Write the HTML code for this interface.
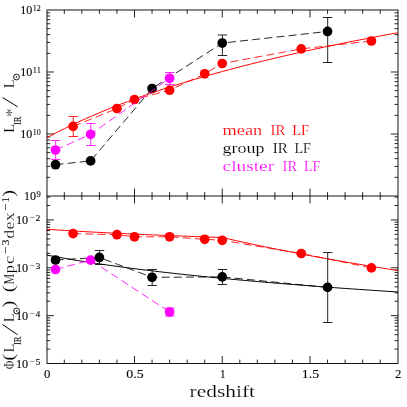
<!DOCTYPE html>
<html><head><meta charset="utf-8"><style>
html,body{margin:0;padding:0;background:#fff;}
#c{position:relative;width:407px;height:407px;overflow:hidden;background:#fff;font-family:"Liberation Serif", serif;}
</style></head><body><div id="c">
<svg width="407" height="407" viewBox="0 0 407 407" style="display:block;will-change:transform" font-family="'Liberation Serif', serif">
<rect x="0" y="0" width="407" height="407" fill="#fff"/>
<g stroke="#000" stroke-width="0.92" fill="none" stroke-linecap="butt">
<rect x="47.0" y="10.0" width="351.00" height="353.50"/>
<path d="M47.0 196.0H398.0"/>
</g>
<g stroke="#000" stroke-width="0.85" fill="none" stroke-linecap="butt">
<path d="M64.30 10.0v3.9M64.30 196.0v-3.9M64.30 196.0v3.9M64.30 363.5v-3.9M81.85 10.0v3.9M81.85 196.0v-3.9M81.85 196.0v3.9M81.85 363.5v-3.9M99.40 10.0v3.9M99.40 196.0v-3.9M99.40 196.0v3.9M99.40 363.5v-3.9M116.95 10.0v3.9M116.95 196.0v-3.9M116.95 196.0v3.9M116.95 363.5v-3.9M134.50 10.0v7.5M134.50 196.0v-7.5M134.50 196.0v7.5M134.50 363.5v-7.5M152.05 10.0v3.9M152.05 196.0v-3.9M152.05 196.0v3.9M152.05 363.5v-3.9M169.60 10.0v3.9M169.60 196.0v-3.9M169.60 196.0v3.9M169.60 363.5v-3.9M187.15 10.0v3.9M187.15 196.0v-3.9M187.15 196.0v3.9M187.15 363.5v-3.9M204.70 10.0v3.9M204.70 196.0v-3.9M204.70 196.0v3.9M204.70 363.5v-3.9M222.25 10.0v7.5M222.25 196.0v-7.5M222.25 196.0v7.5M222.25 363.5v-7.5M239.80 10.0v3.9M239.80 196.0v-3.9M239.80 196.0v3.9M239.80 363.5v-3.9M257.35 10.0v3.9M257.35 196.0v-3.9M257.35 196.0v3.9M257.35 363.5v-3.9M274.90 10.0v3.9M274.90 196.0v-3.9M274.90 196.0v3.9M274.90 363.5v-3.9M292.45 10.0v3.9M292.45 196.0v-3.9M292.45 196.0v3.9M292.45 363.5v-3.9M310.00 10.0v7.5M310.00 196.0v-7.5M310.00 196.0v7.5M310.00 363.5v-7.5M327.55 10.0v3.9M327.55 196.0v-3.9M327.55 196.0v3.9M327.55 363.5v-3.9M345.10 10.0v3.9M345.10 196.0v-3.9M345.10 196.0v3.9M345.10 363.5v-3.9M362.65 10.0v3.9M362.65 196.0v-3.9M362.65 196.0v3.9M362.65 363.5v-3.9M380.20 10.0v3.9M380.20 196.0v-3.9M380.20 196.0v3.9M380.20 363.5v-3.9M46.75 177.34h3.5M398.0 177.34h-3.5M46.75 166.42h3.5M398.0 166.42h-3.5M46.75 158.67h3.5M398.0 158.67h-3.5M46.75 152.66h3.5M398.0 152.66h-3.5M46.75 147.75h3.5M398.0 147.75h-3.5M46.75 143.60h3.5M398.0 143.60h-3.5M46.75 140.01h3.5M398.0 140.01h-3.5M46.75 136.84h3.5M398.0 136.84h-3.5M46.75 134.00h7.2M398.0 134.00h-7.2M46.75 115.34h3.5M398.0 115.34h-3.5M46.75 104.42h3.5M398.0 104.42h-3.5M46.75 96.67h3.5M398.0 96.67h-3.5M46.75 90.66h3.5M398.0 90.66h-3.5M46.75 85.75h3.5M398.0 85.75h-3.5M46.75 81.60h3.5M398.0 81.60h-3.5M46.75 78.01h3.5M398.0 78.01h-3.5M46.75 74.84h3.5M398.0 74.84h-3.5M46.75 72.00h7.2M398.0 72.00h-7.2M46.75 53.34h3.5M398.0 53.34h-3.5M46.75 42.42h3.5M398.0 42.42h-3.5M46.75 34.67h3.5M398.0 34.67h-3.5M46.75 28.66h3.5M398.0 28.66h-3.5M46.75 23.75h3.5M398.0 23.75h-3.5M46.75 19.60h3.5M398.0 19.60h-3.5M46.75 16.01h3.5M398.0 16.01h-3.5M46.75 12.84h3.5M398.0 12.84h-3.5M46.75 349.09h3.5M398.0 349.09h-3.5M46.75 340.67h3.5M398.0 340.67h-3.5M46.75 334.69h3.5M398.0 334.69h-3.5M46.75 330.05h3.5M398.0 330.05h-3.5M46.75 326.26h3.5M398.0 326.26h-3.5M46.75 323.06h3.5M398.0 323.06h-3.5M46.75 320.28h3.5M398.0 320.28h-3.5M46.75 317.83h3.5M398.0 317.83h-3.5M46.75 315.64h7.2M398.0 315.64h-7.2M46.75 301.24h3.5M398.0 301.24h-3.5M46.75 292.81h3.5M398.0 292.81h-3.5M46.75 286.83h3.5M398.0 286.83h-3.5M46.75 282.19h3.5M398.0 282.19h-3.5M46.75 278.40h3.5M398.0 278.40h-3.5M46.75 275.20h3.5M398.0 275.20h-3.5M46.75 272.42h3.5M398.0 272.42h-3.5M46.75 269.98h3.5M398.0 269.98h-3.5M46.75 267.79h7.2M398.0 267.79h-7.2M46.75 253.38h3.5M398.0 253.38h-3.5M46.75 244.95h3.5M398.0 244.95h-3.5M46.75 238.97h3.5M398.0 238.97h-3.5M46.75 234.34h3.5M398.0 234.34h-3.5M46.75 230.55h3.5M398.0 230.55h-3.5M46.75 227.34h3.5M398.0 227.34h-3.5M46.75 224.57h3.5M398.0 224.57h-3.5M46.75 222.12h3.5M398.0 222.12h-3.5M46.75 219.93h7.2M398.0 219.93h-7.2M46.75 205.52h3.5M398.0 205.52h-3.5M46.75 197.09h3.5M398.0 197.09h-3.5"/>
</g>
<polyline points="55.52,164.70 90.62,160.90 152.05,88.50 222.25,43.05 327.55,31.45" fill="none" stroke="#000" stroke-width="0.85" stroke-dasharray="8 4.2"/>
<path d="M222.40 35.0V55.5M217.70 35.0h9.4M217.70 55.5h9.4" stroke="#000" stroke-width="0.85" fill="none"/>
<path d="M327.70 17.5V62.5M323.00 17.5h9.4M323.00 62.5h9.4" stroke="#000" stroke-width="0.85" fill="none"/>
<circle cx="55.52" cy="164.7" r="4.85" fill="#000"/>
<circle cx="90.62" cy="160.9" r="4.85" fill="#000"/>
<circle cx="152.05" cy="88.5" r="4.85" fill="#000"/>
<circle cx="222.25" cy="43.05" r="4.85" fill="#000"/>
<circle cx="327.55" cy="31.45" r="4.85" fill="#000"/>
<polyline points="47.00,137.72 50.51,135.83 54.02,133.97 57.53,132.15 61.04,130.36 64.55,128.61 68.06,126.89 71.57,125.20 75.08,123.53 78.59,121.90 82.10,120.29 85.61,118.71 89.12,117.16 92.63,115.63 96.14,114.12 99.65,112.64 103.16,111.18 106.67,109.74 110.18,108.33 113.69,106.93 117.20,105.56 120.71,104.20 124.22,102.86 127.73,101.55 131.24,100.25 134.75,98.96 138.26,97.70 141.77,96.45 145.28,95.21 148.79,94.00 152.30,92.79 155.81,91.61 159.32,90.43 162.83,89.27 166.34,88.13 169.85,87.00 173.36,85.88 176.87,84.78 180.38,83.68 183.89,82.60 187.40,81.53 190.91,80.48 194.42,79.43 197.93,78.40 201.44,77.38 204.95,76.37 208.46,75.37 211.97,74.37 215.48,73.39 218.99,72.42 222.50,71.46 226.01,70.51 229.52,69.57 233.03,68.64 236.54,67.71 240.05,66.80 243.56,65.89 247.07,65.00 250.58,64.11 254.09,63.23 257.60,62.35 261.11,61.49 264.62,60.63 268.13,59.78 271.64,58.94 275.15,58.10 278.66,57.28 282.17,56.46 285.68,55.64 289.19,54.84 292.70,54.04 296.21,53.24 299.72,52.46 303.23,51.68 306.74,50.90 310.25,50.13 313.76,49.37 317.27,48.62 320.78,47.87 324.29,47.12 327.80,46.38 331.31,45.65 334.82,44.92 338.33,44.20 341.84,43.49 345.35,42.78 348.86,42.07 352.37,41.37 355.88,40.68 359.39,39.99 362.90,39.30 366.41,38.62 369.92,37.94 373.43,37.27 376.94,36.61 380.45,35.95 383.96,35.29 387.47,34.64 390.98,33.99 394.49,33.35 398.00,32.71" fill="none" stroke="#f00" stroke-width="1.0"/>
<polyline points="73.08,126.40 116.95,108.50 134.50,99.50 169.60,90.20 204.70,73.80 222.25,63.50 301.23,48.90 371.43,41.00" fill="none" stroke="#f00" stroke-width="0.85" stroke-dasharray="8 4.2"/>
<path d="M73.23 116.5V136.5M68.53 116.5h9.4M68.53 136.5h9.4" stroke="#f00" stroke-width="0.85" fill="none"/>
<circle cx="73.08" cy="126.4" r="4.85" fill="#f00"/>
<circle cx="116.95" cy="108.5" r="4.85" fill="#f00"/>
<circle cx="134.5" cy="99.5" r="4.85" fill="#f00"/>
<circle cx="169.6" cy="90.2" r="4.85" fill="#f00"/>
<circle cx="204.7" cy="73.8" r="4.85" fill="#f00"/>
<circle cx="222.25" cy="63.5" r="4.85" fill="#f00"/>
<circle cx="301.23" cy="48.9" r="4.85" fill="#f00"/>
<circle cx="371.43" cy="41.0" r="4.85" fill="#f00"/>
<polyline points="55.52,150.00 90.62,134.30 169.60,78.30" fill="none" stroke="#f0f" stroke-width="0.85" stroke-dasharray="8 4.2"/>
<path d="M55.67 140.5V159.5M50.97 140.5h9.4M50.97 159.5h9.4" stroke="#f0f" stroke-width="0.85" fill="none"/>
<path d="M90.78 123.5V145.5M86.08 123.5h9.4M86.08 145.5h9.4" stroke="#f0f" stroke-width="0.85" fill="none"/>
<path d="M169.75 72.5V84.5M165.05 72.5h9.4M165.05 84.5h9.4" stroke="#f0f" stroke-width="0.85" fill="none"/>
<circle cx="55.52" cy="150" r="4.85" fill="#f0f"/>
<circle cx="90.62" cy="134.3" r="4.85" fill="#f0f"/>
<circle cx="169.6" cy="78.3" r="4.85" fill="#f0f"/>
<polyline points="47.00,255.10 50.51,255.76 54.02,256.42 57.53,257.06 61.04,257.68 64.55,258.30 68.06,258.90 71.57,259.50 75.08,260.08 78.59,260.66 82.10,261.22 85.61,261.78 89.12,262.32 92.63,262.86 96.14,263.39 99.65,263.91 103.16,264.42 106.67,264.93 110.18,265.42 113.69,265.91 117.20,266.40 120.71,266.87 124.22,267.34 127.73,267.80 131.24,268.26 134.75,268.71 138.26,269.16 141.77,269.60 145.28,270.03 148.79,270.46 152.30,270.88 155.81,271.30 159.32,271.71 162.83,272.11 166.34,272.52 169.85,272.91 173.36,273.31 176.87,273.69 180.38,274.08 183.89,274.46 187.40,274.83 190.91,275.20 194.42,275.57 197.93,275.93 201.44,276.29 204.95,276.65 208.46,277.00 211.97,277.35 215.48,277.69 218.99,278.03 222.50,278.37 226.01,278.70 229.52,279.03 233.03,279.36 236.54,279.69 240.05,280.01 243.56,280.33 247.07,280.64 250.58,280.95 254.09,281.26 257.60,281.57 261.11,281.87 264.62,282.17 268.13,282.47 271.64,282.77 275.15,283.06 278.66,283.35 282.17,283.64 285.68,283.93 289.19,284.21 292.70,284.49 296.21,284.77 299.72,285.05 303.23,285.32 306.74,285.59 310.25,285.86 313.76,286.13 317.27,286.39 320.78,286.66 324.29,286.92 327.80,287.18 331.31,287.43 334.82,287.69 338.33,287.94 341.84,288.19 345.35,288.44 348.86,288.69 352.37,288.94 355.88,289.18 359.39,289.42 362.90,289.67 366.41,289.90 369.92,290.14 373.43,290.38 376.94,290.61 380.45,290.84 383.96,291.07 387.47,291.30 390.98,291.53 394.49,291.76 398.00,291.98" fill="none" stroke="#000" stroke-width="1.0"/>
<polyline points="55.52,260.00 99.40,257.45 152.05,277.30 222.25,276.90 327.55,287.40" fill="none" stroke="#000" stroke-width="0.85" stroke-dasharray="8 4.2"/>
<polyline points="47.00,229.30 50.51,229.53 54.02,229.77 57.53,229.99 61.04,230.21 64.55,230.43 68.06,230.64 71.57,230.85 75.08,231.06 78.59,231.26 82.10,231.46 85.61,231.66 89.12,231.85 92.63,232.04 96.14,232.23 99.65,232.41 103.16,232.59 106.67,232.77 110.18,232.95 113.69,233.12 117.20,233.29 120.71,233.46 124.22,233.62 127.73,233.79 131.24,233.95 134.75,234.11 138.26,234.26 141.77,234.42 145.28,234.57 148.79,234.72 152.30,234.87 155.81,235.02 159.32,235.17 162.83,235.31 166.34,235.45 169.85,235.59 173.36,235.73 176.87,235.87 180.38,236.00 183.89,236.14 187.40,236.27 190.91,236.40 194.42,236.53 197.93,236.66 201.44,236.78 204.95,236.91 208.46,237.03 211.97,237.16 215.48,237.28 218.99,237.40 222.50,237.52 226.01,238.33 229.52,239.13 233.03,239.93 236.54,240.71 240.05,241.49 243.56,242.26 247.07,243.03 250.58,243.79 254.09,244.54 257.60,245.28 261.11,246.02 264.62,246.75 268.13,247.47 271.64,248.19 275.15,248.90 278.66,249.60 282.17,250.30 285.68,251.00 289.19,251.68 292.70,252.36 296.21,253.04 299.72,253.71 303.23,254.38 306.74,255.03 310.25,255.69 313.76,256.34 317.27,256.98 320.78,257.62 324.29,258.25 327.80,258.88 331.31,259.51 334.82,260.13 338.33,260.74 341.84,261.35 345.35,261.96 348.86,262.56 352.37,263.15 355.88,263.75 359.39,264.33 362.90,264.92 366.41,265.50 369.92,266.07 373.43,266.64 376.94,267.21 380.45,267.77 383.96,268.33 387.47,268.89 390.98,269.44 394.49,269.99 398.00,270.54" fill="none" stroke="#f00" stroke-width="1.0"/>
<polyline points="73.08,233.60 116.95,234.70 134.50,236.80 169.60,236.80 204.70,239.30 222.25,240.30 301.23,253.50 371.43,267.90" fill="none" stroke="#f00" stroke-width="0.85" stroke-dasharray="8 4.2"/>
<circle cx="73.08" cy="233.6" r="4.85" fill="#f00"/>
<circle cx="116.95" cy="234.7" r="4.85" fill="#f00"/>
<circle cx="134.5" cy="236.8" r="4.85" fill="#f00"/>
<circle cx="169.6" cy="236.8" r="4.85" fill="#f00"/>
<circle cx="204.7" cy="239.3" r="4.85" fill="#f00"/>
<circle cx="222.25" cy="240.3" r="4.85" fill="#f00"/>
<circle cx="301.23" cy="253.5" r="4.85" fill="#f00"/>
<circle cx="371.43" cy="267.9" r="4.85" fill="#f00"/>
<polyline points="55.52,269.50 90.62,260.10 169.60,312.00" fill="none" stroke="#f0f" stroke-width="0.85" stroke-dasharray="8 4.2"/>
<path d="M169.75 308.0V316.0M165.05 308.0h9.4M165.05 316.0h9.4" stroke="#f0f" stroke-width="0.85" fill="none"/>
<circle cx="55.52" cy="269.5" r="4.85" fill="#f0f"/>
<circle cx="90.62" cy="260.1" r="4.85" fill="#f0f"/>
<circle cx="169.6" cy="312.0" r="4.85" fill="#f0f"/>
<path d="M99.55 250.5V264.5M94.85 250.5h9.4M94.85 264.5h9.4" stroke="#000" stroke-width="0.85" fill="none"/>
<path d="M152.20 269.5V285.5M147.50 269.5h9.4M147.50 285.5h9.4" stroke="#000" stroke-width="0.85" fill="none"/>
<path d="M222.40 269.5V284.5M217.70 269.5h9.4M217.70 284.5h9.4" stroke="#000" stroke-width="0.85" fill="none"/>
<path d="M327.70 252.5V322.5M323.00 252.5h9.4M323.00 322.5h9.4" stroke="#000" stroke-width="0.85" fill="none"/>
<circle cx="55.52" cy="260" r="4.85" fill="#000"/>
<circle cx="99.4" cy="257.45" r="4.85" fill="#000"/>
<circle cx="152.05" cy="277.3" r="4.85" fill="#000"/>
<circle cx="222.25" cy="276.9" r="4.85" fill="#000"/>
<circle cx="327.55" cy="287.4" r="4.85" fill="#000"/>
<text x="32.80" y="11.10" font-size="7.6" fill="#000" text-anchor="start" textLength="8.00" lengthAdjust="spacingAndGlyphs" stroke="#000" stroke-width="0.08">12</text>
<text x="20.20" y="14.10" font-size="11.9" fill="#000" text-anchor="start" textLength="12.00" lengthAdjust="spacingAndGlyphs" stroke="#000" stroke-width="0.08">10</text>
<text x="32.80" y="73.10" font-size="7.6" fill="#000" text-anchor="start" textLength="8.00" lengthAdjust="spacingAndGlyphs" stroke="#000" stroke-width="0.08">11</text>
<text x="20.20" y="76.10" font-size="11.9" fill="#000" text-anchor="start" textLength="12.00" lengthAdjust="spacingAndGlyphs" stroke="#000" stroke-width="0.08">10</text>
<text x="32.80" y="135.10" font-size="7.6" fill="#000" text-anchor="start" textLength="8.00" lengthAdjust="spacingAndGlyphs" stroke="#000" stroke-width="0.08">10</text>
<text x="20.20" y="138.10" font-size="11.9" fill="#000" text-anchor="start" textLength="12.00" lengthAdjust="spacingAndGlyphs" stroke="#000" stroke-width="0.08">10</text>
<text x="36.50" y="197.10" font-size="7.6" fill="#000" text-anchor="start" textLength="4.30" lengthAdjust="spacingAndGlyphs" stroke="#000" stroke-width="0.08">9</text>
<text x="23.90" y="200.10" font-size="11.9" fill="#000" text-anchor="start" textLength="12.00" lengthAdjust="spacingAndGlyphs" stroke="#000" stroke-width="0.08">10</text>
<text x="16.00" y="224.13" font-size="11.9" fill="#000" text-anchor="start" textLength="12.20" lengthAdjust="spacingAndGlyphs" stroke="#000" stroke-width="0.08">10</text>
<text x="29.20" y="220.43" font-size="7.6" fill="#000" text-anchor="start" textLength="5.60" lengthAdjust="spacingAndGlyphs" stroke="#000" stroke-width="0.08">&#8722;</text>
<text x="35.50" y="221.13" font-size="7.6" fill="#000" text-anchor="start" textLength="4.80" lengthAdjust="spacingAndGlyphs" stroke="#000" stroke-width="0.08">2</text>
<text x="16.00" y="271.99" font-size="11.9" fill="#000" text-anchor="start" textLength="12.20" lengthAdjust="spacingAndGlyphs" stroke="#000" stroke-width="0.08">10</text>
<text x="29.20" y="268.29" font-size="7.6" fill="#000" text-anchor="start" textLength="5.60" lengthAdjust="spacingAndGlyphs" stroke="#000" stroke-width="0.08">&#8722;</text>
<text x="35.50" y="268.99" font-size="7.6" fill="#000" text-anchor="start" textLength="4.80" lengthAdjust="spacingAndGlyphs" stroke="#000" stroke-width="0.08">3</text>
<text x="16.00" y="319.84" font-size="11.9" fill="#000" text-anchor="start" textLength="12.20" lengthAdjust="spacingAndGlyphs" stroke="#000" stroke-width="0.08">10</text>
<text x="29.20" y="316.14" font-size="7.6" fill="#000" text-anchor="start" textLength="5.60" lengthAdjust="spacingAndGlyphs" stroke="#000" stroke-width="0.08">&#8722;</text>
<text x="35.50" y="316.84" font-size="7.6" fill="#000" text-anchor="start" textLength="4.80" lengthAdjust="spacingAndGlyphs" stroke="#000" stroke-width="0.08">4</text>
<text x="16.00" y="367.70" font-size="11.9" fill="#000" text-anchor="start" textLength="12.20" lengthAdjust="spacingAndGlyphs" stroke="#000" stroke-width="0.08">10</text>
<text x="29.20" y="364.00" font-size="7.6" fill="#000" text-anchor="start" textLength="5.60" lengthAdjust="spacingAndGlyphs" stroke="#000" stroke-width="0.08">&#8722;</text>
<text x="35.50" y="364.70" font-size="7.6" fill="#000" text-anchor="start" textLength="4.80" lengthAdjust="spacingAndGlyphs" stroke="#000" stroke-width="0.08">5</text>
<text x="47.20" y="377.80" font-size="12.9" fill="#000" text-anchor="middle" textLength="6.40" lengthAdjust="spacingAndGlyphs" stroke="#000" stroke-width="0.08">0</text>
<text x="134.95" y="377.80" font-size="12.9" fill="#000" text-anchor="middle" textLength="17.40" lengthAdjust="spacingAndGlyphs" stroke="#000" stroke-width="0.08">0.5</text>
<text x="222.70" y="377.80" font-size="12.9" fill="#000" text-anchor="middle" textLength="5.60" lengthAdjust="spacingAndGlyphs" stroke="#000" stroke-width="0.08">1</text>
<text x="310.45" y="377.80" font-size="12.9" fill="#000" text-anchor="middle" textLength="17.40" lengthAdjust="spacingAndGlyphs" stroke="#000" stroke-width="0.08">1.5</text>
<text x="398.20" y="377.80" font-size="12.9" fill="#000" text-anchor="middle" textLength="6.40" lengthAdjust="spacingAndGlyphs" stroke="#000" stroke-width="0.08">2</text>
<text x="189.60" y="396.90" font-size="16" fill="#000" text-anchor="start" textLength="65.40" lengthAdjust="spacingAndGlyphs" stroke="#fff" stroke-width="0.15">redshift</text>
<text x="222.60" y="134.60" font-size="14.2" fill="#f00" text-anchor="start" textLength="39.70" lengthAdjust="spacingAndGlyphs" stroke="#fff" stroke-width="0.15">mean</text>
<text x="270.50" y="134.60" font-size="14.2" fill="#f00" text-anchor="start" textLength="14.80" lengthAdjust="spacingAndGlyphs" stroke="#fff" stroke-width="0.15">IR</text>
<text x="292.20" y="134.60" font-size="14.2" fill="#f00" text-anchor="start" textLength="17.00" lengthAdjust="spacingAndGlyphs" stroke="#fff" stroke-width="0.15">LF</text>
<text x="222.60" y="153.00" font-size="14.2" fill="#000" text-anchor="start" textLength="41.90" lengthAdjust="spacingAndGlyphs" stroke="#fff" stroke-width="0.15">group</text>
<text x="272.70" y="153.00" font-size="14.2" fill="#000" text-anchor="start" textLength="15.10" lengthAdjust="spacingAndGlyphs" stroke="#fff" stroke-width="0.15">IR</text>
<text x="294.50" y="153.00" font-size="14.2" fill="#000" text-anchor="start" textLength="16.30" lengthAdjust="spacingAndGlyphs" stroke="#fff" stroke-width="0.15">LF</text>
<text x="222.60" y="171.30" font-size="14.2" fill="#f0f" text-anchor="start" textLength="51.50" lengthAdjust="spacingAndGlyphs" stroke="#fff" stroke-width="0.15">cluster</text>
<text x="282.60" y="171.30" font-size="14.2" fill="#f0f" text-anchor="start" textLength="14.50" lengthAdjust="spacingAndGlyphs" stroke="#fff" stroke-width="0.15">IR</text>
<text x="304.00" y="171.30" font-size="14.2" fill="#f0f" text-anchor="start" textLength="16.40" lengthAdjust="spacingAndGlyphs" stroke="#fff" stroke-width="0.15">LF</text>
<text transform="translate(13.70 132.80) rotate(-90)" font-size="15" fill="#000" text-anchor="start" textLength="8.80" lengthAdjust="spacingAndGlyphs" stroke="#fff" stroke-width="0.2">L</text>
<text transform="translate(20.50 125.00) rotate(-90)" font-size="10" fill="#000" text-anchor="start" textLength="8.60" lengthAdjust="spacingAndGlyphs" stroke="#000" stroke-width="0.08">IR</text>
<text transform="translate(17.30 116.90) rotate(-90)" font-size="17.5" fill="#000" text-anchor="start" textLength="8.75" lengthAdjust="spacingAndGlyphs" stroke="#fff" stroke-width="0.2">*</text>
<path d="M17.7 106.8L2.6 97.5" stroke="#000" stroke-width="1" fill="none"/>
<text transform="translate(13.70 88.30) rotate(-90)" font-size="15" fill="#000" text-anchor="start" textLength="8.80" lengthAdjust="spacingAndGlyphs" stroke="#fff" stroke-width="0.2">L</text>
<circle cx="16.5" cy="77" r="2.9" stroke="#000" stroke-width="0.9" fill="none"/><circle cx="16.5" cy="77" r="0.8" fill="#000"/>
<text transform="translate(13.70 369.30) rotate(-90)" font-size="15" fill="#000" text-anchor="start" textLength="8.60" lengthAdjust="spacingAndGlyphs" stroke="#fff" stroke-width="0.2">&#934;</text>
<text transform="translate(14.40 360.80) rotate(-90)" font-size="17.5" fill="#000" text-anchor="start" textLength="7.20" lengthAdjust="spacingAndGlyphs" stroke="#fff" stroke-width="0.2">(</text>
<text transform="translate(13.70 352.60) rotate(-90)" font-size="15" fill="#000" text-anchor="start" textLength="8.80" lengthAdjust="spacingAndGlyphs" stroke="#fff" stroke-width="0.2">L</text>
<text transform="translate(20.50 345.10) rotate(-90)" font-size="10" fill="#000" text-anchor="start" textLength="8.60" lengthAdjust="spacingAndGlyphs" stroke="#000" stroke-width="0.08">IR</text>
<path d="M17.7 334.8L2.6 324.6" stroke="#000" stroke-width="1" fill="none"/>
<text transform="translate(13.70 322.20) rotate(-90)" font-size="15" fill="#000" text-anchor="start" textLength="8.80" lengthAdjust="spacingAndGlyphs" stroke="#fff" stroke-width="0.2">L</text>
<circle cx="16.6" cy="311" r="2.9" stroke="#000" stroke-width="0.9" fill="none"/><circle cx="16.6" cy="311" r="0.8" fill="#000"/>
<text transform="translate(14.40 307.80) rotate(-90)" font-size="17.5" fill="#000" text-anchor="start" textLength="7.20" lengthAdjust="spacingAndGlyphs" stroke="#fff" stroke-width="0.2">)</text>
<text transform="translate(14.40 292.30) rotate(-90)" font-size="17.5" fill="#000" text-anchor="start" textLength="7.20" lengthAdjust="spacingAndGlyphs" stroke="#fff" stroke-width="0.2">(</text>
<text transform="translate(13.70 284.40) rotate(-90)" font-size="15" fill="#000" text-anchor="start" textLength="10.80" lengthAdjust="spacingAndGlyphs" stroke="#fff" stroke-width="0.2">M</text>
<text transform="translate(13.70 273.20) rotate(-90)" font-size="15" fill="#000" text-anchor="start" textLength="8.20" lengthAdjust="spacingAndGlyphs" stroke="#fff" stroke-width="0.2">p</text>
<text transform="translate(13.70 263.90) rotate(-90)" font-size="15" fill="#000" text-anchor="start" textLength="8.20" lengthAdjust="spacingAndGlyphs" stroke="#fff" stroke-width="0.2">c</text>
<text transform="translate(9.00 253.40) rotate(-90)" font-size="10.5" fill="#000" text-anchor="start" textLength="7.00" lengthAdjust="spacingAndGlyphs" stroke="#000" stroke-width="0.08">&#8722;</text>
<text transform="translate(8.80 245.40) rotate(-90)" font-size="10.5" fill="#000" text-anchor="start" textLength="6.00" lengthAdjust="spacingAndGlyphs" stroke="#000" stroke-width="0.08">3</text>
<text transform="translate(13.70 238.60) rotate(-90)" font-size="15" fill="#000" text-anchor="start" textLength="8.40" lengthAdjust="spacingAndGlyphs" stroke="#fff" stroke-width="0.2">d</text>
<text transform="translate(13.70 229.60) rotate(-90)" font-size="15" fill="#000" text-anchor="start" textLength="8.00" lengthAdjust="spacingAndGlyphs" stroke="#fff" stroke-width="0.2">e</text>
<text transform="translate(13.70 221.20) rotate(-90)" font-size="15" fill="#000" text-anchor="start" textLength="9.00" lengthAdjust="spacingAndGlyphs" stroke="#fff" stroke-width="0.2">x</text>
<text transform="translate(9.00 210.20) rotate(-90)" font-size="10.5" fill="#000" text-anchor="start" textLength="7.00" lengthAdjust="spacingAndGlyphs" stroke="#000" stroke-width="0.08">&#8722;</text>
<text transform="translate(8.80 202.20) rotate(-90)" font-size="10.5" fill="#000" text-anchor="start" textLength="5.00" lengthAdjust="spacingAndGlyphs" stroke="#000" stroke-width="0.08">1</text>
<text transform="translate(14.40 197.00) rotate(-90)" font-size="17.5" fill="#000" text-anchor="start" textLength="7.20" lengthAdjust="spacingAndGlyphs" stroke="#fff" stroke-width="0.2">)</text>
</svg>
</div></body></html>
